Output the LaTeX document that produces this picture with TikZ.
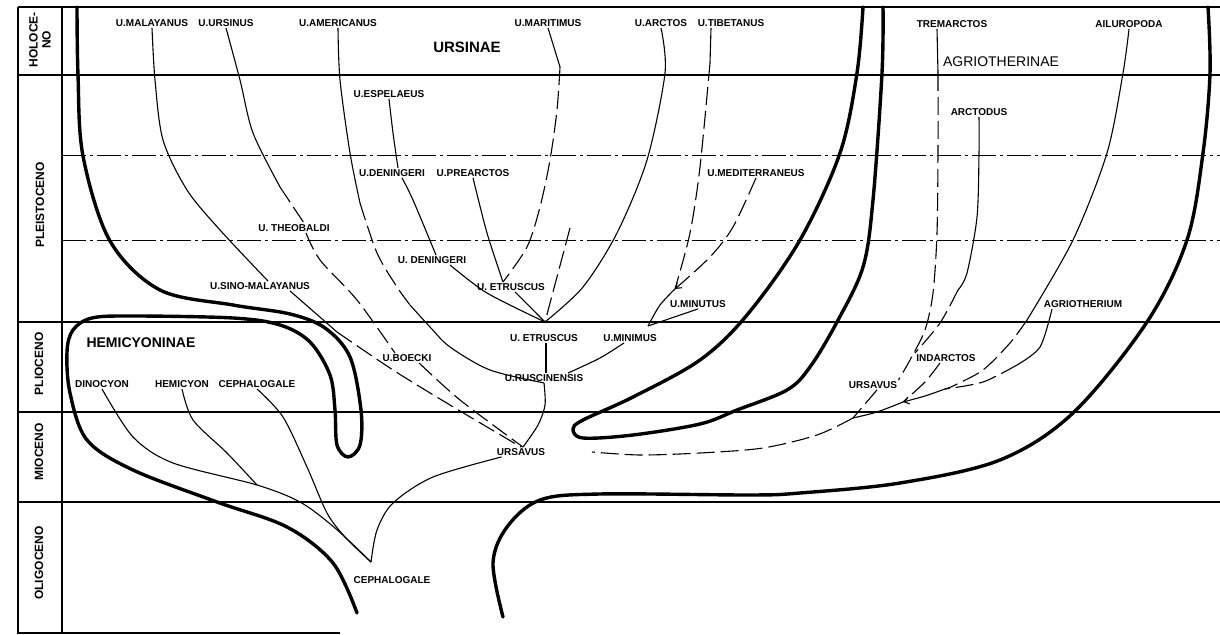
\documentclass[tikz,border=0pt]{standalone}
\usepackage{fontspec}
\newfontfamily\labfont{Liberation Sans}
\usetikzlibrary{positioning,calc,arrows.meta}

\begin{document}
\begin{tikzpicture}[x=0.5pt, y=-0.5pt,
    taxon/.style={font=\labfont\bfseries\fontsize{5}{6}\selectfont, inner sep=0.5pt},
    group/.style={font=\labfont\bfseries\fontsize{7.5}{8}\selectfont, inner sep=0.5pt},
    epoch/.style={rotate=90, align=center, font=\labfont\bfseries\fontsize{6}{6.5}\selectfont, inner sep=0pt},
    bound/.style={line width=0.9pt},
    subbound/.style={line width=0.5pt, dash pattern=on 12pt off 2pt on 1.5pt off 2pt},
    clade/.style={line width=1.7pt, line join=round, line cap=round},
    lineage/.style={line width=0.55pt},
    gap/.style={lineage, dash pattern=on 9pt off 3pt},
    barb/.style={-{Straight Barb[length=2.5pt,width=3.5pt]}}
]
\useasboundingbox (0,0) rectangle (1220,635);

% Time scale
\draw[bound] (18,7) -- (1220,7);
\draw[bound] (18,7) -- (18,633) -- (340,633);
\draw[line width=1.3pt] (62,7) -- (62,633);
\foreach \y in {75,322,412,502} {
    \draw[bound] (18,\y) -- (1220,\y);
}
\foreach \y in {156,241} {
    \draw[subbound] (62,\y) -- (1220,\y);
}
\node[epoch] (holo) at (40,40) {HOLOCE-\\NO};
\node[epoch] (pleisto) at (40,205) {PLEISTOCENO};
\node[epoch] (plio) at (39,364) {PLIOCENO};
\node[epoch] (mio) at (39,452) {MIOCENO};
\node[epoch] (oligo) at (39,563) {OLIGOCENO};

% Subfamily envelopes
\draw[clade] plot[smooth, tension=0.55] coordinates {(77,7) (78,75) (83,156) (110,241) (160,290) (233,305) (290,314) (325,328) (350,357) (361,410) (360,445) (348,457) (337,445) (335,410) (330,375) (310,342) (280,325) (233,318) (133,316) (92,318) (73,330) (67,352) (70,393) (87,440) (133,470) (217,502) (287,527) (333,563) (357,613)};
\draw[clade] plot[smooth, tension=0.55] coordinates {(863,7) (857,73) (840,153) (800,240) (747,315) (700,360) (633,397) (583,420) (573,429) (583,438) (633,435) (700,424) (737,410) (787,390) (810,367) (837,322) (863,267) (873,200) (882,73) (883,7)};
\draw[clade] plot[smooth, tension=0.55] coordinates {(1208,7) (1210,73) (1203,153) (1187,240) (1147,322) (1073,413) (1000,460) (900,483) (800,493) (750,495) (600,494) (540,500) (507,527) (493,563) (503,617)};

\node[group] (ursinae) at (467,47) {URSINAE};
\node[group, font=\labfont\fontsize{7}{8}\selectfont] (agriotherinae) at (1001,62) {AGRIOTHERINAE};
\node[group, font=\labfont\bfseries\fontsize{7}{8}\selectfont] (hemicyoninae) at (141,343) {HEMICYONINAE};

% Taxa
\node[taxon] (malay) at (152,23) {U.MALAYANUS};
\node[taxon] (ursinus) at (226,23) {U.URSINUS};
\node[taxon] (americ) at (338,23) {U.AMERICANUS};
\node[taxon] (marit) at (548,23) {U.MARITIMUS};
\node[taxon] (arctos) at (661,23) {U.ARCTOS};
\node[taxon] (tibet) at (731,23) {U.TIBETANUS};
\node[taxon] (tremarc) at (952,24) {TREMARCTOS};
\node[taxon] (ailuro) at (1129,24) {AILUROPODA};
\node[taxon] (espel) at (389,94) {U.ESPELAEUS};
\node[taxon] (arctodus) at (979,112) {ARCTODUS};
\node[taxon] (deningA) at (392,173) {U.DENINGERI};
\node[taxon] (prearc) at (473,173) {U.PREARCTOS};
\node[taxon] (medit) at (756,173) {U.MEDITERRANEUS};
\node[taxon] (theob) at (294,228) {U. THEOBALDI};
\node[taxon] (deningB) at (432,260) {U. DENINGERI};
\node[taxon] (sinomal) at (260,286) {U.SINO-MALAYANUS};
\node[taxon] (etrusA) at (511,287) {U. ETRUSCUS};
\node[taxon] (minutus) at (698,304) {U.MINUTUS};
\node[taxon] (agrium) at (1083,304) {AGRIOTHERIUM};
\node[taxon] (etrusB) at (544,338) {U. ETRUSCUS};
\node[taxon] (minimus) at (630,338) {U.MINIMUS};
\node[taxon] (boecki) at (407,358) {U.BOECKI};
\node[taxon] (indarc) at (946,358) {INDARCTOS};
\node[taxon] (ruscin) at (544,378) {U.RUSCINENSIS};
\node[taxon] (dinoc) at (102,384) {DINOCYON};
\node[taxon] (hemicyon) at (182,384) {HEMICYON};
\node[taxon] (cephA) at (257,384) {CEPHALOGALE};
\node[taxon] (ursavR) at (873,385) {URSAVUS};
\node[taxon] (ursavM) at (521,452) {URSAVUS};
\node[taxon] (cephB) at (392,580) {CEPHALOGALE};

% Junctions
\coordinate (jEtr) at (545,322);
\coordinate (jMed) at (675,289);
\coordinate (jMin) at (648,326);
\coordinate (jAgr) at (945,389);
\coordinate (jInd) at (903,402);
\coordinate (jUrs) at (853,418);
\coordinate (jHem) at (257,485);
\coordinate (jCeph) at (371,562);
\coordinate (cShort) at (570,228);
\coordinate (cEnd) at (592,452);

% Ursinae lineages
\draw[lineage] plot[smooth] coordinates {(malay.south) (155,80) (163,140) (187,190) (220,230) ([xshift=4pt]sinomal.north)};
\draw[lineage] ([xshift=15pt]sinomal.south) -- (337,332);
\draw[gap] plot[smooth] coordinates {(337,332) (393,370) (450,405) (ursavM.north)};
\draw[lineage] plot[smooth] coordinates {(ursinus.south) (240,80) (253,133) (280,187)};
\draw[gap] plot[smooth] coordinates {(280,187) ([xshift=5pt]theob.north)};
\draw[gap] plot[smooth] coordinates {([xshift=6pt]theob.south) (320,260) (357,300) ([xshift=-6pt]boecki.north)};
\draw[gap] plot[smooth] coordinates {([xshift=6pt]boecki.south) (460,400) ([xshift=1pt]ursavM.north)};
\draw[lineage] plot[smooth] coordinates {(americ.south) (340,80) (350,153) (360,203)};
\draw[gap] plot[smooth] coordinates {(360,203) (377,253) (397,287) (410,305)};
\draw[lineage] plot[smooth] coordinates {(410,305) (430,327) (450,347) (490,370) (ruscin.south)};
\draw[lineage] plot[smooth] coordinates {(espel.south) (393,133) ([xshift=3pt]deningA.north)};
\draw[lineage] plot[smooth] coordinates {([xshift=5pt]deningA.south) (413,200) ([xshift=2pt]deningB.north)};
\draw[lineage] plot[smooth] coordinates {([xshift=9pt]deningB.south) (487,293) (jEtr)};
\draw[lineage] plot[smooth] coordinates {(prearc.south) (487,233) ([xshift=-4pt]etrusA.north)};
\draw[lineage] (marit.south) -- (560,67);
\draw[gap] plot[smooth] coordinates {(560,67) (557,110) (550,160) (540,207) (527,247) ([xshift=-4pt]etrusA.north)};
\draw[lineage] ([xshift=2pt]etrusA.south) -- (jEtr);
\draw[gap] (cShort) -- (jEtr);
\draw[lineage] plot[smooth] coordinates {(arctos.south) (665,73) (647,160) (617,233) (583,287) (jEtr)};
\draw[lineage] ([xshift=-10pt]tibet.south) -- (710,63);
\draw[gap] plot[smooth] coordinates {(710,63) (700,167) (690,233) (jMed)};
\draw[gap, barb] plot[smooth] coordinates {(medit.south) (733,227) (710,257) (jMed)};
\draw[lineage] plot[smooth] coordinates {(jMed) (660,305) (jMin)};
\draw[lineage] (minutus.south) -- (jMin);
\draw[lineage] plot[smooth] coordinates {([xshift=-3pt]minimus.south) (600,358) ([xshift=12pt]ruscin.north)};
\draw[lineage] ([xshift=1pt]etrusB.south) -- ([xshift=1pt]ruscin.north);
\draw[lineage] plot[smooth] coordinates {(ruscin.south) (545,405) (538,425) ([xshift=1pt]ursavM.north)};
\draw[lineage] plot[smooth] coordinates {([xshift=3pt]ursavM.south west) (433,477) (393,503) (377,530) (jCeph)};

% Hemicyoninae lineages
\draw[lineage] plot[smooth] coordinates {(dinoc.south) (133,437) (173,463) (jHem) (300,502) (335,528) (jCeph)};
\draw[lineage] plot[smooth] coordinates {(hemicyon.south) (193,420) (227,453) (jHem)};
\draw[lineage] plot[smooth] coordinates {(cephA.south) (283,417) (307,467) (327,513) (345,537) (jCeph)};

% Agriotherinae lineages
\draw[lineage] ([xshift=-7.5pt]tremarc.south) -- (938,73);
\draw[gap] plot[smooth] coordinates {(938,73) (938,150) (937,233) (933,293) (925,330) (910,360) (ursavR.north east)};
\draw[gap] plot[smooth] coordinates {([xshift=2pt]ursavR.south) (jUrs)};
\draw[lineage] plot[smooth] coordinates {(arctodus.south) (979,153) (977,217) (967,273) (958,290)};
\draw[gap] plot[smooth] coordinates {(958,290) (940,323) (indarc.north west)};
\draw[lineage] plot[smooth] coordinates {(ailuro.south) (1123,73) (1107,153) (1073,240) (1027,320)};
\draw[gap] plot[smooth] coordinates {(1027,320) (1010,343) (983,370) (953,386) (jAgr)};
\draw[lineage] plot[smooth] coordinates {([xshift=-15.5pt]agrium.south) (1040,347) (1017,365)};
\draw[gap] plot[smooth] coordinates {(1017,365) (983,382) (jAgr)};
\draw[gap] plot[smooth] coordinates {([xshift=-3pt]indarc.south) (925,382) (jInd)};
\draw[lineage, barb] plot[smooth] coordinates {(jAgr) (925,396) (jInd)};
\draw[lineage] plot[smooth] coordinates {(jInd) (877,412) (jUrs)};
\draw[gap] plot[smooth] coordinates {(jUrs) (817,435) (763,448) (700,453) (640,455) (cEnd)};

\end{tikzpicture}
\end{document}
